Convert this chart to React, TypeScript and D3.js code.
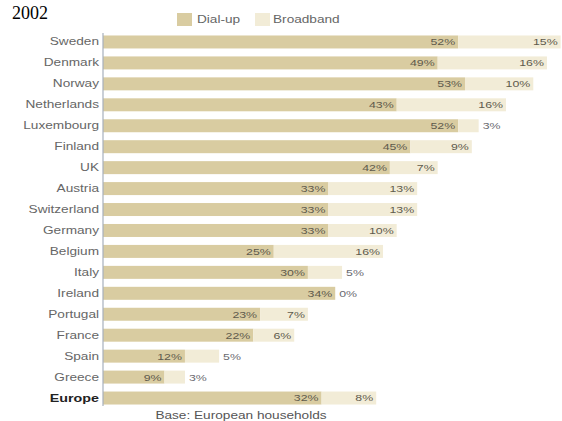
import React from "react";
import * as d3 from "d3";

const countries = ["Sweden","Denmark","Norway","Netherlands","Luxembourg","Finland","UK","Austria","Switzerland","Germany","Belgium","Italy","Ireland","Portugal","France","Spain","Greece","Europe"];
const dialup = [52,49,53,43,52,45,42,33,33,33,25,30,34,23,22,12,9,32];
const broadband = [15,16,10,16,3,9,7,13,13,10,16,5,0,7,6,5,3,8];
const seriesNames = ["Dial-up","Broadband"];
const titleText = "2002";
const footerText = "Base: European households";

const W = 562, H = 421;
const C_DIAL = "#d9cca1";
const C_BB = "#f2ecd7";
const FONT = "'Liberation Sans', Arial, sans-serif";
const SX = 1.3;

function T({x, y, anchor = "start", size = 11, fill = "#666", weight = "normal", children}: any) {
  return (
    <g transform={`translate(${x},${y}) scale(${SX},1)`}>
      <text x={0} y={0} textAnchor={anchor} fontSize={size} fill={fill} fontWeight={weight} fontFamily={FONT} dominantBaseline="central">{children}</text>
    </g>
  );
}

export default function App() {
  const x = d3.scaleLinear().domain([0, 100]).range([103, 786]);
  const y = d3.scaleBand<string>().domain(countries).range([31.5, 408.5]).paddingInner(0.38).paddingOuter(0.19);
  const bh = y.bandwidth();

  return (
    <svg width={W} height={H} style={{position: "absolute", left: 0, top: 0, background: "#fff"}}>
      <text x={12} y={19} fontFamily="'Liberation Serif', 'Times New Roman', serif" fontSize={18} fill="#000">{titleText}</text>
      <rect x={177} y={13} width={15} height={13} fill={C_DIAL} />
      <T x={197} y={20} size={10.5} fill="#666">{seriesNames[0]}</T>
      <rect x={255} y={13} width={15} height={13} fill={C_BB} />
      <T x={273} y={20} size={10.5} fill="#666">{seriesNames[1]}</T>
      {countries.map((c, i) => {
        const y0 = y(c)!;
        const cy = y0 + bh / 2;
        const xd0 = x(0), xd1 = x(dialup[i]), xb1 = x(dialup[i] + broadband[i]);
        const dl = `${dialup[i]}%`, bl = `${broadband[i]}%`;
        const bbFits = xb1 - xd1 > 38;
        const isEu = c === "Europe";
        return (
          <g key={c}>
            <rect x={xd0} y={y0} width={xd1 - xd0} height={bh} fill={C_DIAL} />
            <rect x={xd1} y={y0} width={xb1 - xd1} height={bh} fill={C_BB} />
            <T x={99} y={cy} anchor="end" size={isEu ? 11 : 10.5} fill={isEu ? "#222" : "#666"} weight={isEu ? "bold" : "normal"}>{c}</T>
            <T x={xd1 - 3} y={cy} anchor="end" size={9.5} fill="#5e5a4c">{dl}</T>
            {bbFits
              ? <T x={xb1 - 3} y={cy} anchor="end" size={9.5} fill="#5e5a4c">{bl}</T>
              : <T x={xb1 + 4} y={cy} anchor="start" size={9.5} fill="#6a6a70">{bl}</T>}
          </g>
        );
      })}
      <line x1={103} x2={103} y1={33} y2={406} stroke="#a7b0bd" strokeWidth={1.2} />
      <T x={241} y={416} anchor="middle" size={10.5} fill="#555">{footerText}</T>
    </svg>
  );
}
